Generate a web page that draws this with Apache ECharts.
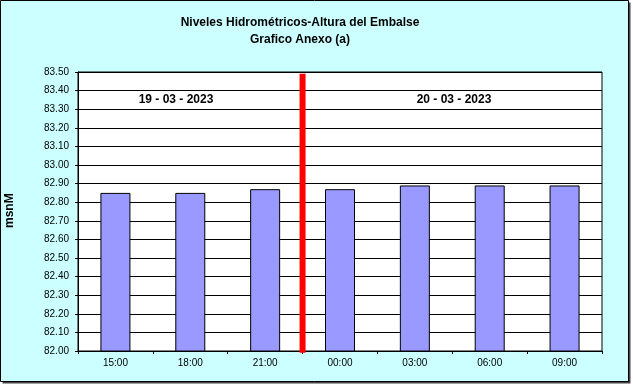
<!DOCTYPE html>
<html>
<head>
<meta charset="utf-8">
<script src="https://cdn.jsdelivr.net/npm/echarts@6/dist/echarts.min.js"></script>
<style>
html,body{margin:0;padding:0;background:#fff;}
#chart{width:633px;height:387px;}
</style>
</head>
<body>
<div id="chart"></div>
<script>
const categories = ['15:00', '18:00', '21:00', '00:00', '03:00', '06:00', '09:00'];
const levels = [82.85, 82.85, 82.87, 82.87, 82.89, 82.89, 82.89];
const dividerPosition = 3; // boundary between 21:00 and 00:00
const dividerRange = [81.99, 83.49];
const dateLabels = ['19 - 03 - 2023', '20 - 03 - 2023'];
const titleLines = ['Niveles Hidrométricos-Altura del Embalse', 'Grafico Anexo (a)'];
const yAxisName = 'msnM';

const font = '"Liberation Sans", Arial, sans-serif';
const chart = echarts.init(document.getElementById('chart'));
chart.setOption({
  animation: false,
  backgroundColor: '#ffffff',
  graphic: [
    { type: 'rect', shape: { x: 2.5, y: 2.5, width: 628, height: 381 }, style: { fill: '#444', stroke: null }, z: -20 },
    { type: 'rect', shape: { x: 0.5, y: 0.5, width: 628, height: 381 }, style: { fill: '#CCFFFF', stroke: '#000', lineWidth: 1 }, z: -10 },
    { type: 'text', x: 300, y: 17, style: { text: titleLines[0], font: 'bold 12px ' + font, fill: '#000', textAlign: 'center' }, z: 10 },
    { type: 'text', x: 300, y: 34, style: { text: titleLines[1], font: 'bold 12px ' + font, fill: '#000', textAlign: 'center' }, z: 10 },
    { type: 'text', x: 176, y: 94, style: { text: dateLabels[0], font: 'bold 12px ' + font, fill: '#000', textAlign: 'center' }, z: 10 },
    { type: 'text', x: 454, y: 94, style: { text: dateLabels[1], font: 'bold 12px ' + font, fill: '#000', textAlign: 'center' }, z: 10 },
    { type: 'text', x: 4, y: 228, rotation: Math.PI / 2, style: { text: yAxisName, font: 'bold 12px ' + font, fill: '#000', textAlign: 'left' }, z: 10 }
  ],
  grid: { left: 78, top: 72, width: 524, height: 279, show: true, backgroundColor: '#ffffff', borderColor: '#000', borderWidth: 1 },
  xAxis: [{
    type: 'category',
    data: categories,
    boundaryGap: true,
    axisLine: { lineStyle: { color: '#000', width: 1 } },
    axisTick: { show: true, length: 3, lineStyle: { color: '#000' } },
    axisLabel: { color: '#000', fontSize: 10, fontFamily: font, margin: 7 },
    splitLine: { show: false }
  }, {
    type: 'value', min: 0, max: 7, show: false
  }],
  yAxis: {
    type: 'value',
    min: 82, max: 83.5, interval: 0.1,
    axisLine: { show: true, lineStyle: { color: '#000', width: 1 } },
    axisTick: { show: true, length: 3, lineStyle: { color: '#000' } },
    axisLabel: { color: '#000', fontSize: 10, fontFamily: font, margin: 9, formatter: v => v.toFixed(2) },
    splitLine: { show: true, lineStyle: { color: '#000', width: 1 } }
  },
  series: [{
    type: 'bar',
    data: levels,
    barWidth: 30,
    itemStyle: { color: '#9999FF', borderColor: '#000', borderWidth: 1 }
  }, {
    type: 'line',
    xAxisIndex: 1,
    data: [[dividerPosition, dividerRange[0]], [dividerPosition, dividerRange[1]]],
    symbol: 'none',
    clip: false,
    lineStyle: { color: '#ff0000', width: 6 },
    z: 5
  }]
});
</script>
</body>
</html>
